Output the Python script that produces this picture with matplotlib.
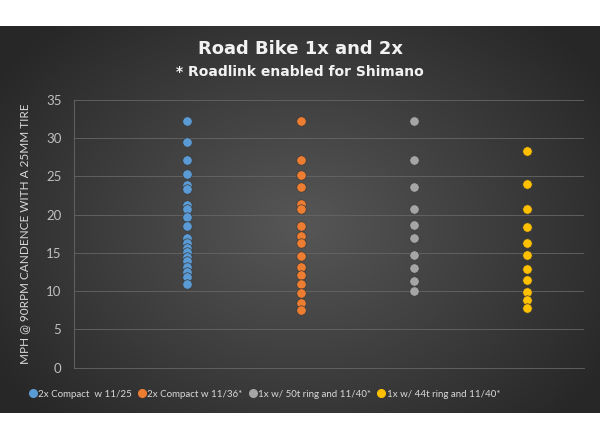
import numpy as np
import matplotlib
matplotlib.use("Agg")
import matplotlib.pyplot as plt
from matplotlib.lines import Line2D

# series labels and colours (Office palette)
labels = ["2x Compact  w 11/25", "2x Compact w 11/36*",
          "1x w/ 50t ring and 11/40*", "1x w/ 44t ring and 11/40*"]
colors = ["#5B9BD5", "#ED7D31", "#A5A5A5", "#FFC000"]

# speeds (mph)
compact_1125 = [32.2, 29.5, 27.2, 25.3, 23.9, 23.3, 21.3, 20.7, 19.7, 18.5,
                16.9, 16.3, 15.7, 15.1, 14.5, 13.9, 13.2, 12.5, 11.8, 11.0]
compact_1136 = [32.2, 27.2, 25.2, 23.6, 21.4, 20.7, 18.5, 17.2, 16.3, 14.6,
                13.2, 12.1, 11.0, 9.8, 8.5, 7.5]
one_x_50t = [32.2, 27.2, 23.6, 20.8, 18.6, 16.9, 14.7, 13.1, 11.4, 10.0]
one_x_44t = [28.3, 24.0, 20.8, 18.4, 16.3, 14.8, 12.9, 11.5, 9.9, 8.85, 7.8]
series = [compact_1125, compact_1136, one_x_50t, one_x_44t]

yticks = [0, 5, 10, 15, 20, 25, 30, 35]

W, H = 600, 440
fig = plt.figure(figsize=(6, 4.4), dpi=100)
fig.patch.set_facecolor("white")

# dark radial gradient panel
top, bot = 26, 413
bg = fig.add_axes([0, 1 - bot / H, 1, (bot - top) / H])
yy, xx = np.mgrid[0:bot - top, 0:W]
d = np.sqrt(((xx - 300) / 330.0) ** 2 + ((yy - 200) / 250.0) ** 2)
shade = np.clip(0.34 - 0.17 * d, 0.155, 0.34)
bg.imshow(np.dstack([shade] * 3), aspect="auto", interpolation="bilinear")
bg.axis("off")

ax = fig.add_axes([74 / W, 1 - 367.7 / H, 510 / W, 267.7 / H])
ax.set_facecolor("none")

for i, (vals, c) in enumerate(zip(series, colors)):
    ax.scatter([i + 1] * len(vals), vals, s=46, color=c, zorder=3,
               edgecolors="#3a3a3a", linewidths=0.5)

ax.set_xlim(0, 4.5)
ax.set_ylim(0, 35)
ax.set_yticks(yticks)
ax.set_xticks([])
ax.grid(axis="y", color="#666666", linewidth=0.6)
ax.set_axisbelow(True)
for s in ["top", "right"]:
    ax.spines[s].set_visible(False)
ax.spines["left"].set_color("#5e5e5e")
ax.spines["bottom"].set_color("#666666")
ax.spines["bottom"].set_linewidth(0.6)
ax.tick_params(axis="y", length=0, colors="#bfbfbf", labelsize=9.5, pad=9)
for t in ax.get_yticklabels():
    t.set_fontfamily("Lato")

fig.text(25 / W, 1 - 234 / H, "MPH @ 90RPM CANDENCE WITH A 25MM TIRE",
         rotation=90, ha="center", va="center", color="#d9d9d9", fontsize=8.5,
         family="Lato")

fig.text(0.5, 1 - 49 / H, "Road Bike 1x and 2x", ha="center", va="center",
         color="#f2f2f2", fontsize=13, fontweight="bold")
fig.text(0.5, 1 - 72 / H, "* Roadlink enabled for Shimano", ha="center",
         va="center", color="#f2f2f2", fontsize=10, fontweight="bold")

handles = [Line2D([], [], marker="o", linestyle="none", color=c, markersize=5.5)
           for c in colors]
fig.legend(handles, labels, loc="center", bbox_to_anchor=(264 / W, 1 - 394 / H),
           ncol=4, frameon=False, labelcolor="#d9d9d9",
           prop={"family": "Lato", "size": 7.0},
           handletextpad=0.05, columnspacing=0.55, handlelength=1.0)

fig.savefig("out.png", dpi=100)
